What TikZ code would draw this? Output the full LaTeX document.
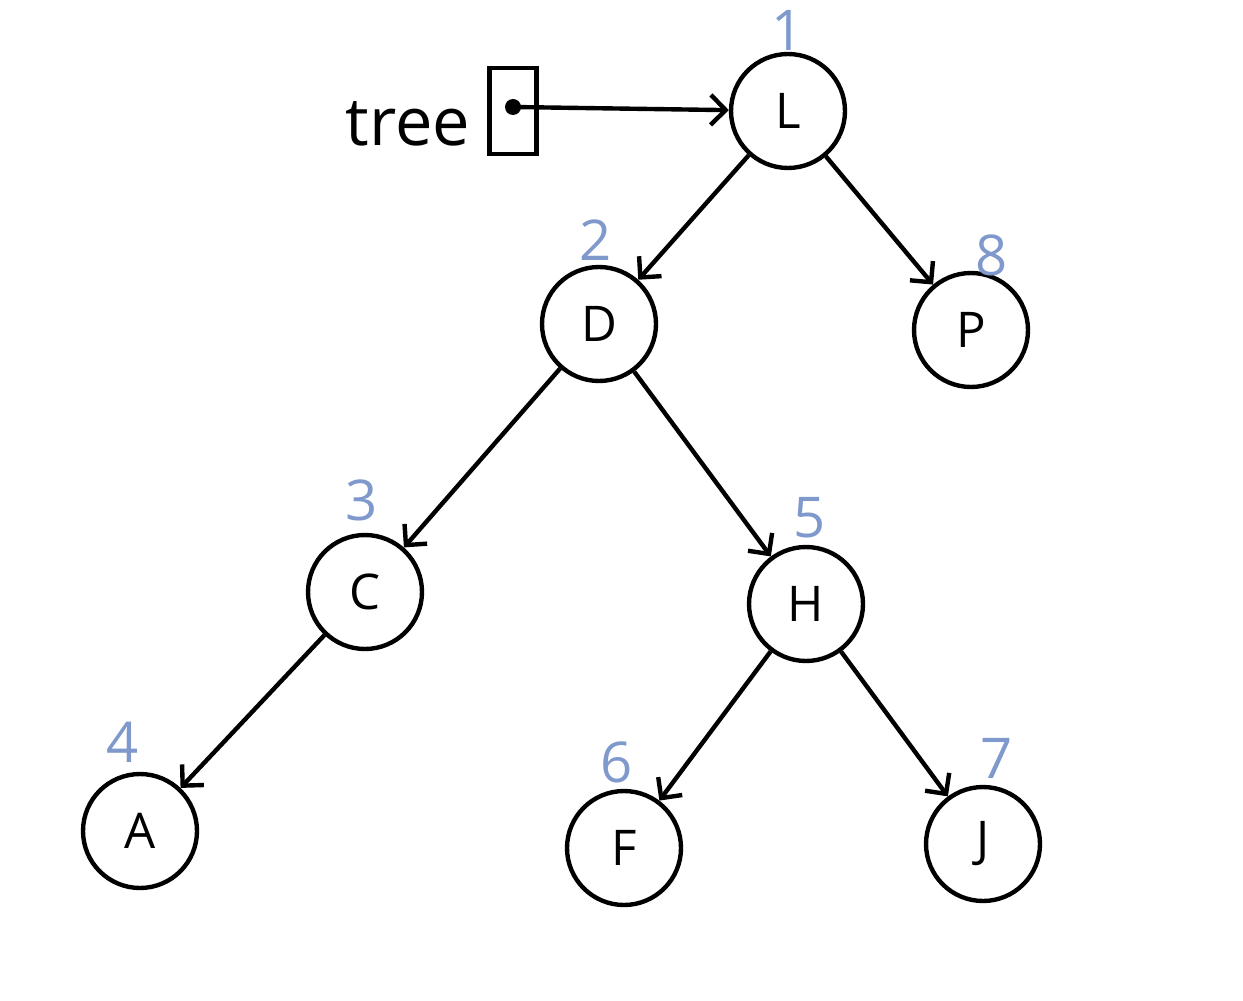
\documentclass[tikz,border=0pt]{standalone}
\usepackage{fontspec}
\setmainfont{Open Sans}
\usetikzlibrary{arrows.meta}
\definecolor{numblue}{HTML}{7F99CC}
\tikzset{%
	vertex/.style={draw, circle, line width=2.5pt, minimum size=2.28cm, inner sep=0mm,
		font=\fontsize{28}{30}\selectfont},
	edge/.style={line width=2.5pt, -{Straight Barb[length=3mm,width=6mm]}},
	order/.style={text=numblue, font=\fontsize{32}{34}\selectfont}
}
\begin{document}
\begin{tikzpicture}[x=0.02cm, y=-0.02cm]
	\useasboundingbox (0,0) rectangle (1243,1000);
	\node[vertex] (L) at (788,111) {L};
	\node[vertex] (D) at (599,324) {D};
	\node[vertex] (P) at (971,330) {P};
	\node[vertex] (C) at (365,592) {C};
	\node[vertex] (H) at (806,604) {H};
	\node[vertex] (A) at (140,831) {A};
	\node[vertex] (F) at (624,848) {F};
	\node[vertex] (J) at (983,844) {J};

	\node[order] at (788,30) {1};
	\node[order] at (596,240) {2};
	\node[order] at (362,500) {3};
	\node[order] at (123,742) {4};
	\node[order] at (810,518) {5};
	\node[order] at (617,762) {6};
	\node[order] at (997,758) {7};
	\node[order] at (992,255) {8};

	\node[draw, line width=2.5pt, minimum width=0.94cm, minimum height=1.72cm, inner sep=0mm] (box) at (513,111) {};
	\node[font=\fontsize{38}{40}\selectfont] (name) at (408,124) {tree};
	\coordinate (ptr) at (513,107);
	\fill (ptr) circle (8);

	\draw[edge] (ptr) -- (L);
	\draw[edge] (L) -- (D);
	\draw[edge] (L) -- (P);
	\draw[edge] (D) -- (C);
	\draw[edge] (D) -- (H);
	\draw[edge] (C) -- (A);
	\draw[edge] (H) -- (F);
	\draw[edge] (H) -- (J);
\end{tikzpicture}
\end{document}
